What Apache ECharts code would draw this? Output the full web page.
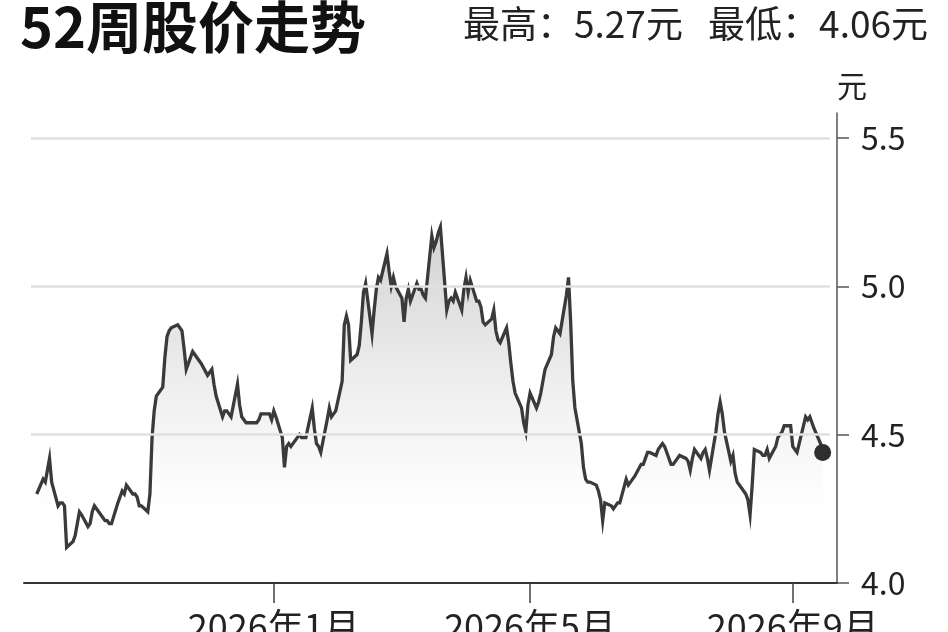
<!DOCTYPE html>
<html>
<head>
<meta charset="utf-8">
<script src="https://cdn.jsdelivr.net/npm/echarts@6/dist/echarts.min.js"></script>
<style>
html,body{margin:0;padding:0;background:#ffffff;}
#chart{width:948px;height:632px;}
</style>
</head>
<body>
<div id="chart"></div>
<script>
// ---- Data ----
const titleText = '52周股价走势';
const high52 = '5.27';
const low52 = '4.06';
const unitText = '元';

// trading days (weekdays) from 2025-09-12 to 2026-09-15
const startDate = [2025, 9, 12];
const endDate = [2026, 9, 15];

// closing prices, one per weekday, grouped by week
const prices = [
  4.30,
  4.35, 4.34, 4.38, 4.42, 4.34,
  4.26, 4.27, 4.27, 4.26, 4.12,
  4.14, 4.16, 4.20, 4.24, 4.23,
  4.19, 4.20, 4.24, 4.26, 4.25,
  4.22, 4.21, 4.21, 4.20, 4.20,
  4.27, 4.29, 4.31, 4.30, 4.33,
  4.30, 4.30, 4.29, 4.26, 4.26,
  4.24, 4.30, 4.49, 4.58, 4.63,
  4.66, 4.76, 4.83, 4.85, 4.86,
  4.87, 4.86, 4.85, 4.79, 4.72,
  4.78, 4.77, 4.76, 4.75, 4.74,
  4.70, 4.71, 4.72, 4.67, 4.63,
  4.56, 4.58, 4.58, 4.57, 4.56,
  4.67, 4.60, 4.56, 4.55, 4.54,
  4.54, 4.54, 4.54, 4.55, 4.57,
  4.57, 4.57, 4.55, 4.58, 4.56,
  4.49, 4.39, 4.46, 4.47, 4.46,
  4.49, 4.50, 4.49, 4.49, 4.49,
  4.59, 4.52, 4.47, 4.46, 4.44,
  4.55, 4.59, 4.56, 4.57, 4.58,
  4.68, 4.87, 4.90, 4.87, 4.75,
  4.77, 4.80, 4.88, 4.98, 5.01,
  4.84, 4.92, 4.99, 5.03, 5.02,
  5.11, 5.05, 5.00, 5.03, 5.00,
  4.96, 4.88, 4.96, 4.99, 4.95,
  5.01, 4.99, 4.99, 4.97, 4.96,
  5.17, 5.13, 5.15, 5.18, 5.20,
  4.92, 4.95, 4.96, 4.95, 4.98,
  4.92, 4.99, 5.03, 4.98, 5.02,
  4.95, 4.95, 4.93, 4.88, 4.87,
  4.89, 4.92, 4.85, 4.82, 4.81,
  4.86, 4.81, 4.74, 4.68, 4.64,
  4.59, 4.54, 4.51, 4.60, 4.64,
  4.59, 4.61, 4.64, 4.68, 4.72,
  4.77, 4.83, 4.86, 4.85, 4.84,
  4.97, 5.03, 4.88, 4.68, 4.59,
  4.47, 4.39, 4.35, 4.34, 4.34,
  4.33, 4.31, 4.28, 4.21, 4.27,
  4.26, 4.25, 4.26, 4.27, 4.27,
  4.35, 4.33, 4.34, 4.35, 4.36,
  4.40, 4.40, 4.42, 4.44, 4.44,
  4.43, 4.45, 4.46, 4.47, 4.46,
  4.40, 4.40, 4.41, 4.42, 4.43,
  4.42, 4.41, 4.38, 4.42, 4.45,
  4.42, 4.44, 4.45, 4.42, 4.38,
  4.51, 4.57, 4.61, 4.57, 4.51,
  4.41, 4.43, 4.37, 4.34, 4.33,
  4.30, 4.28, 4.23, 4.33, 4.45,
  4.44, 4.43, 4.43, 4.45, 4.42,
  4.46, 4.49, 4.50, 4.51, 4.53,
  4.53, 4.46, 4.45, 4.44, 4.47,
  4.56, 4.55, 4.56, 4.54, 4.52,
  4.47, 4.44
];

const xTickDates = [[2026, 1, 1], [2026, 5, 1], [2026, 9, 1]];
const xTickLabels = ['2026年1月', '2026年5月', '2026年9月'];
const yTicks = [4.0, 4.5, 5.0, 5.5];
const gridValues = [4.5, 5.0, 5.5];
const xRange = [[2025, 9, 6, 1], [2026, 9, 21, 17]];
const gridLineRange = [[2025, 9, 9, 8], [2026, 9, 18, 10]];
const yRange = [4.0, 5.584];

// ---- Build ----
function ts(a) { return Date.UTC(a[0], a[1] - 1, a[2], a[3] || 0); }
function weekdays(s, e) {
  const out = [];
  let t = Date.UTC(s[0], s[1] - 1, s[2]);
  const end = Date.UTC(e[0], e[1] - 1, e[2]);
  while (t <= end) {
    const w = new Date(t).getUTCDay();
    if (w !== 0 && w !== 6) out.push(t);
    t += 86400000;
  }
  return out;
}
const dates = weekdays(startDate, endDate);
const n = Math.min(dates.length, prices.length);
const seriesData = [];
for (let i = 0; i < n; i++) seriesData.push([dates[i], prices[i]]);
const lastPoint = seriesData[seriesData.length - 1];
const xTicks = xTickDates.map(ts);

const chart = echarts.init(document.getElementById('chart'), null, {renderer: 'canvas'});
const numFont = "'Liberation Sans Narrow', 'Noto Sans CJK SC', sans-serif";

chart.setOption({
  animation: false,
  backgroundColor: '#ffffff',
  graphic: [
    {type: 'text', left: 20, top: -1, style: {text: titleText, font: "bold 56px 'Noto Sans CJK SC', sans-serif", fill: '#111111'}},
    {type: 'text', left: 463, top: 5, style: {text: '最高：' + high52 + '元', font: "37px " + numFont, fill: '#222222'}},
    {type: 'text', right: 20, top: 5, style: {text: '最低：' + low52 + '元', font: "37px " + numFont, fill: '#222222'}}
  ],
  grid: {left: 24, right: 111, top: 113, bottom: 49, containLabel: false, outerBoundsMode: 'none'},
  xAxis: {
    type: 'value',
    min: ts(xRange[0]),
    max: ts(xRange[1]),
    splitLine: {show: false},
    axisLine: {show: true, lineStyle: {color: '#333333', width: 2}},
    axisTick: {show: true, customValues: xTicks, length: 20, lineStyle: {color: '#444444', width: 1.5}},
    axisLabel: {
      show: true, customValues: xTicks, margin: 25, fontSize: 36, color: '#222222',
      fontFamily: numFont, hideOverlap: false,
      formatter: function (v) {
        for (let i = 0; i < xTicks.length; i++) if (Math.abs(xTicks[i] - v) < 3600000) return xTickLabels[i];
        return '';
      }
    }
  },
  yAxis: {
    type: 'value',
    position: 'right',
    min: yRange[0],
    max: yRange[1],
    name: unitText,
    nameLocation: 'end',
    nameGap: 12,
    nameTextStyle: {fontSize: 30, color: '#222222', align: 'left', fontFamily: "'Noto Sans CJK SC', sans-serif"},
    splitLine: {show: false},
    axisLine: {show: true, lineStyle: {color: '#555555', width: 1.5}},
    axisTick: {show: true, customValues: yTicks, length: 12, lineStyle: {color: '#555555', width: 1.5}},
    axisLabel: {
      show: true, customValues: yTicks, margin: 24, fontSize: 32, color: '#222222',
      fontFamily: numFont,
      formatter: function (v) { return v.toFixed(1); }
    }
  },
  series: [
    {
      name: 'area', type: 'line', data: seriesData, symbol: 'none', z: 1, silent: true,
      lineStyle: {width: 0, opacity: 0},
      areaStyle: {
        color: new echarts.graphic.LinearGradient(0, 0, 0, 1, [
          {offset: 0, color: 'rgba(0,0,0,0.25)'},
          {offset: 0.45, color: 'rgba(0,0,0,0.09)'},
          {offset: 0.8, color: 'rgba(0,0,0,0)'}
        ])
      }
    },
    {
      name: 'grid', type: 'line', data: [], z: 2, silent: true,
      markLine: {
        silent: true, symbol: 'none', label: {show: false},
        lineStyle: {color: '#e0e0e0', width: 2.5, type: 'solid'},
        data: gridValues.map(v => [{coord: [ts(gridLineRange[0]), v]}, {coord: [ts(gridLineRange[1]), v]}])
      }
    },
    {
      name: 'price', type: 'line', data: seriesData, symbol: 'none', z: 3,
      lineStyle: {color: '#3a3a3a', width: 3.3, join: 'miter'}
    },
    {
      name: 'last', type: 'scatter', data: [lastPoint], z: 4,
      symbol: 'circle', symbolSize: 17, itemStyle: {color: '#2e2e2e', opacity: 1}
    }
  ]
});
</script>
</body>
</html>
